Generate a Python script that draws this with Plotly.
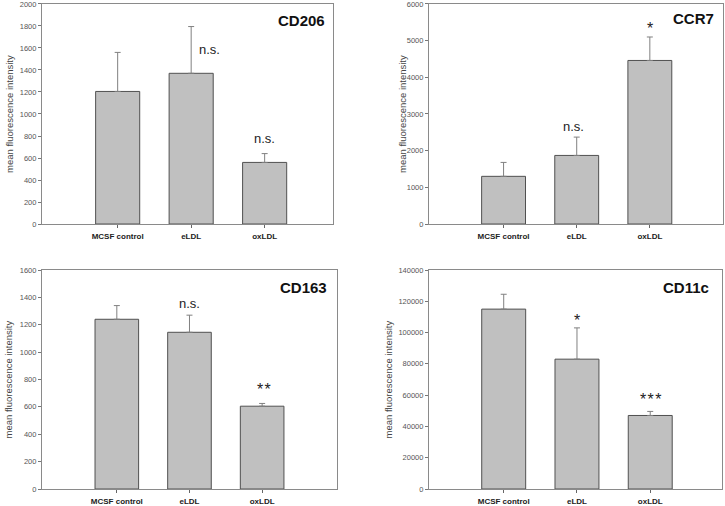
import plotly.graph_objects as go

categories = ["MCSF control", "eLDL", "oxLDL"]
tick_labels = ["MCSF control", "eLDL", "oxLDL"]

cd206_mean = [1205, 1370, 560]
cd206_err = [355, 425, 80]
ccr7_mean = [1300, 1870, 4460]
ccr7_err = [380, 500, 640]
cd163_mean = [1240, 1145, 605]
cd163_err = [100, 125, 20]
cd11c_mean = [115000, 83000, 47000]
cd11c_err = [9500, 20000, 2600]

panels = [
    dict(name="CD206", mean=cd206_mean, err=cd206_err, yr=[0, 2000], dt=200,
         xd=[0.0579, 0.4593], yd=[0.5573, 0.9921], xr=[-1.03, 2.93],
         tx=0.892, ty=0.923,
         marks=[("n.s.", 1.25, 1590), ("n.s.", 2, 775)], ytx=9),
    dict(name="CCR7", mean=ccr7_mean, err=ccr7_err, yr=[0, 6000], dt=1000,
         xd=[0.5917, 0.9972], yd=[0.5573, 0.9921], xr=[-1.02, 3.0],
         tx=0.90, ty=0.932,
         marks=[("n.s.", 0.95, 2650), ("*", 2, 5320)], ytx=402),
    dict(name="CD163", mean=cd163_mean, err=cd163_err, yr=[0, 1600], dt=200,
         xd=[0.0579, 0.4648], yd=[0.0336, 0.4664], xr=[-1.03, 3.03],
         tx=0.886, ty=0.918,
         marks=[("n.s.", 1, 1355), ("*\u200a*", 2.03, 725)], ytx=8),
    dict(name="CD11c", mean=cd11c_mean, err=cd11c_err, yr=[0, 140000], dt=20000,
         xd=[0.5917, 0.9959], yd=[0.0336, 0.4664], xr=[-1.02, 2.98],
         tx=0.877, ty=0.918,
         marks=[("*", 1, 107900), ("*\u200a*\u200a*", 2, 57500)], ytx=388),
]

W, H = 725, 506
fig = go.Figure()
layout = dict(width=W, height=H, margin=dict(l=0, r=0, t=0, b=0, autoexpand=False),
              plot_bgcolor="white", paper_bgcolor="white", showlegend=False,
              font=dict(family="Arial, Liberation Sans, sans-serif", color="#333"))
annotations = []
for i, p in enumerate(panels):
    n = "" if i == 0 else str(i + 1)
    xa, ya = "x" + n, "y" + n
    fig.add_trace(go.Bar(
        x=categories, y=p["mean"], xaxis=xa, yaxis=ya, width=0.6,
        marker=dict(color="#c0c0c0", line=dict(color="#505050", width=1)),
        error_y=dict(type="data", array=p["err"], symmetric=False,
                     arrayminus=[0] * len(p["err"]), color="#808080",
                     thickness=1, width=3),
    ))
    layout["xaxis" + n] = dict(
        domain=p["xd"], anchor=ya, type="category", range=p["xr"],
        tickvals=categories, ticktext=["<b>%s</b>" % t for t in tick_labels],
        ticks="outside", ticklen=3, tickcolor="#666", showline=True,
        linecolor="#8a8a8a", linewidth=1, mirror=True, showgrid=False,
        tickfont=dict(size=8, color="#222"), fixedrange=True, automargin=False,
        ticklabeloverflow="allow", ticklabelstandoff=1)
    layout["yaxis" + n] = dict(
        domain=p["yd"], anchor=xa, range=p["yr"], dtick=p["dt"], tickformat="d",
        ticks="outside", ticklen=3, tickcolor="#777", showline=True,
        linecolor="#8a8a8a", linewidth=1, mirror=True, showgrid=False,
        zeroline=False, tickfont=dict(size=7.5, color="#555"), fixedrange=True,
        automargin=False, ticklabeloverflow="allow")
    annotations.append(dict(
        text="<b>%s</b>" % p["name"], xref=xa + " domain", yref=ya + " domain",
        x=p["tx"], y=p["ty"], showarrow=False, xanchor="center", yanchor="middle",
        font=dict(size=15, color="#111")))
    for txt, mx, my in p["marks"]:
        fs = 16 if "*" in txt else 13
        annotations.append(dict(
            text=txt, xref=xa, yref=ya, x=mx, y=my, showarrow=False,
            xanchor="center", yanchor="middle", font=dict(size=fs, color="#222")))
    ymid = (p["yd"][0] + p["yd"][1]) / 2
    annotations.append(dict(
        text="mean fluorescence intensity", xref="paper", yref="paper",
        x=p["ytx"] / W, y=ymid, showarrow=False, textangle=-90,
        xanchor="center", yanchor="middle", font=dict(size=9.5, color="#444")))
layout["annotations"] = annotations
fig.update_layout(**layout)
fig.write_html("out.html", config={"displayModeBar": False},
               post_script="document.body.style.margin='0';document.body.style.overflow='hidden';")
